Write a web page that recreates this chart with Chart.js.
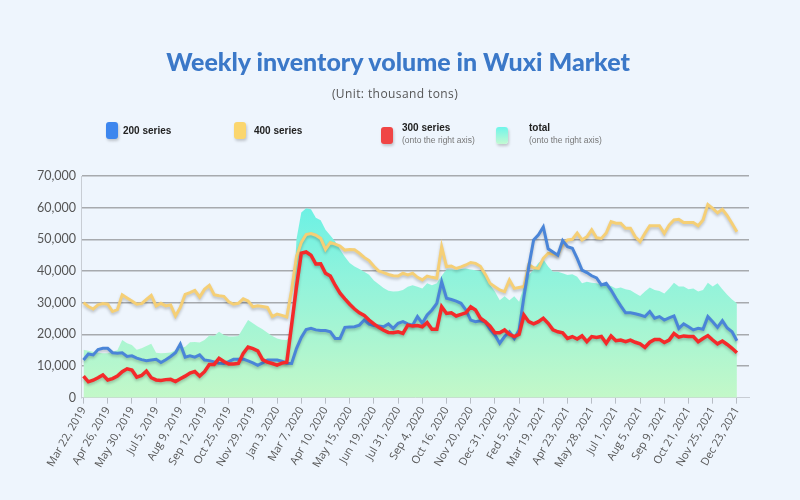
<!DOCTYPE html>
<html>
<head>
<meta charset="utf-8">
<script src="https://cdn.jsdelivr.net/npm/chart.js@4/dist/chart.umd.min.js"></script>
<style>
  body { margin: 0; background: #eef5fd; }
  #wrap { position: relative; width: 800px; height: 500px; background: #eef5fd; font-family: 'Open Sans', sans-serif; }
  #chart { position: absolute; left: 0; top: 0; }
  .title { position: absolute; left: 0; width: 796px; text-align: center; top: 46px; font-family: Lato, sans-serif; font-weight: 900; font-size: 25px; color: #3b78c8; }
  .sub { position: absolute; left: 0; width: 790px; text-align: center; top: 85px; font-size: 12px; color: #555; letter-spacing: 0.4px; }
  .box { position: absolute; width: 12px; height: 17px; border-radius: 3px; box-shadow: 1px 2px 3px rgba(0,0,0,0.2); }
  .lab { position: absolute; font-family: 'Liberation Sans', Arial, sans-serif; font-weight: bold; font-size: 10px; color: #222; }
  .note { position: absolute; font-family: 'Liberation Sans', Arial, sans-serif; font-size: 8.5px; color: #777; }
</style>
</head>
<body>
<div id="wrap">
  <canvas id="chart" width="800" height="500"></canvas>
  <div class="title">Weekly inventory volume in Wuxi Market</div>
  <div class="sub">(Unit: thousand tons)</div>

  <div class="box" style="left:106px;top:122px;background:#3d86ee;"></div>
  <div class="lab" style="left:123px;top:125px;">200 series</div>
  <div class="box" style="left:234px;top:122px;background:#fbd66e;"></div>
  <div class="lab" style="left:254px;top:125px;">400 series</div>
  <div class="box" style="left:381px;top:127px;background:#f04545;"></div>
  <div class="lab" style="left:402px;top:122px;">300 series</div>
  <div class="note" style="left:402px;top:135px;">(onto the right axis)</div>
  <div class="box" style="left:496px;top:127px;background:linear-gradient(#6ff5ea,#c3f9d2);"></div>
  <div class="lab" style="left:529px;top:122px;">total</div>
  <div class="note" style="left:529px;top:135px;">(onto the right axis)</div>
</div>

<script>
// tick dates, one every 5 weeks (as printed on the axis)
const tickDates = ['Mar 22, 2019', 'Apr 26, 2019', 'May 30, 2019', 'Jul 5, 2019', 'Aug 9, 2019', 'Sep 12, 2019',
    'Oct 25, 2019', 'Nov 29, 2019', 'Jan 3, 2020', 'Mar 7, 2020', 'Apr 10, 2020', 'May 15, 2020', 'Jun 19, 2020',
    'Jul 31, 2020', 'Sep 4, 2020', 'Oct 16, 2020', 'Nov 20, 2020', 'Dec 31, 2020', 'Fed 5, 2021', 'Mar 19, 2021',
    'Apr 23, 2021', 'May 28, 2021', 'Jul 1, 2021', 'Aug 5, 2021', 'Sep 9, 2021', 'Oct 21, 2021', 'Nov 25, 2021',
    'Dec 23, 2021'];
const TICK_STEP = 5;

const series200 = [
    11900, 13800, 13500, 15200, 15600, 15600, 14200, 14000, 14200, 13000,
    13200, 12500, 12000, 11700, 11900, 12100, 11100, 12000, 13000, 14200,
    16900, 12800, 13200, 12800, 13500, 11900, 11700, 11300, 10900, 10800,
    11400, 12100, 12100, 12200, 11600, 11000, 10200, 11000, 11900, 11900,
    11900, 11500, 10900, 10800, 15500, 19000, 21500, 21900, 21400, 21200,
    21200, 20800, 18700, 18700, 22200, 22300, 22400, 22900, 24500, 23200,
    22800, 22600, 22400, 23300, 21900, 23500, 24000, 23300, 22900, 25600,
    23500, 26100, 27700, 29800, 36600, 31400, 31000, 30500, 29800, 27700,
    24500, 24000, 24300, 24000, 21600, 19800, 17200, 19300, 20800, 18700,
    21400, 31900, 41400, 49800, 51400, 53900, 47000, 46000, 45000, 49600,
    47700, 47200, 44000, 40300, 39500, 38500, 37800, 35600, 36100, 34000,
    31400, 29000, 26800, 26800, 26500, 26100, 25600, 27200, 25100, 25600,
    24500, 25200, 25800, 21900, 23300, 22400, 21400, 21900, 21600, 25600,
    24000, 22200, 24300, 22000, 20800, 18000];

const series400 = [
    30000, 28800, 28000, 29300, 29700, 29500, 27200, 27800, 32500, 31500,
    30500, 29500, 29700, 31000, 32300, 29000, 29800, 29000, 29300, 25800,
    28500, 32600, 33200, 33900, 31800, 34200, 35500, 32500, 32200, 32000,
    30300, 29500, 29800, 31200, 30500, 28700, 29000, 28800, 28500, 25600,
    26400, 26000, 25500, 34000, 44500, 49000, 51500, 51800, 51300, 50300,
    46800, 49000, 48500, 47900, 46600, 46800, 46700, 45600, 44300, 43300,
    41500, 40000, 39500, 38900, 38500, 38400, 39300, 38800, 39300, 38000,
    37200, 38400, 38000, 37700, 47700, 41400, 41600, 40800, 41300, 41900,
    42700, 42400, 41500, 39000, 36100, 35000, 34000, 33500, 37200, 34500,
    34800, 35100, 42000, 41000, 40800, 44000, 45600, 45400, 45000, 48500,
    49800, 50000, 52000, 49800, 50800, 53000, 50500, 50300, 52000, 55600,
    55100, 55100, 53500, 53500, 50800, 49300, 51900, 54300, 54300, 54300,
    51900, 54500, 56100, 56300, 55300, 55300, 55300, 54300, 56100, 61000,
    59800, 58400, 59500, 57500, 55000, 52400];

const series300 = [
    6800, 5000, 5500, 6300, 7200, 5600, 6000, 6800, 8200, 9100,
    8700, 6500, 7000, 8400, 6300, 5600, 5400, 5700, 5800, 5100,
    6000, 6800, 7800, 8300, 6800, 8200, 10500, 10500, 12400, 11400,
    10600, 10600, 10800, 14000, 16000, 15500, 14800, 12000, 11200, 10800,
    10300, 10900, 11200, 23000, 35000, 45600, 46000, 45000, 42200, 42300,
    39300, 38400, 35500, 33000, 31200, 29500, 28000, 26800, 26000, 24500,
    23300, 22200, 21300, 20600, 20500, 20800, 20300, 22900, 22600, 22800,
    22400, 23700, 21600, 21600, 28700, 26600, 26800, 25800, 26300, 26800,
    28700, 27700, 25100, 24000, 22600, 20500, 20500, 21400, 20000, 19300,
    20000, 26100, 24000, 23300, 24000, 25100, 23500, 21400, 20800, 20500,
    18700, 19300, 18500, 19500, 17700, 19300, 19000, 19300, 17200, 19500,
    18000, 18200, 17700, 18200, 17500, 17000, 15900, 17500, 18400, 18400,
    17400, 18200, 20300, 19100, 19500, 19300, 19300, 17700, 18700, 19600,
    18200, 17000, 17900, 16800, 15600, 14200];

const seriesTotal = [
    15100, 14800, 14500, 14200, 14000, 14000, 14500, 15000, 18200, 17200,
    16600, 15100, 15600, 16300, 17000, 14200, 14000, 14100, 14300, 15000,
    15600, 16100, 17500, 17600, 17400, 18200, 19600, 19500, 20800, 19800,
    19300, 19300, 19500, 22000, 24500, 23500, 22500, 21600, 20500, 19500,
    18700, 18300, 18200, 20000, 50000, 58500, 59800, 59500, 56800, 56000,
    53000, 51200, 49300, 46800, 44500, 42500, 41400, 40600, 39800, 38800,
    37000, 35800, 34600, 33800, 33500, 33600, 34000, 35000, 35500, 35000,
    34500, 36100, 35500, 36100, 38500, 40500, 40500, 40300, 40600, 40800,
    40500, 40200, 40000, 39300, 35600, 33500, 30800, 32000, 30800, 32000,
    30300, 35100, 38700, 40500, 42500, 43700, 41400, 39800, 39800, 39300,
    38700, 39000, 38200, 36100, 36600, 36300, 36100, 35600, 35600, 35300,
    34500, 34800, 34200, 33900, 33000, 32100, 33500, 34800, 34000, 33700,
    32900, 34500, 36300, 35100, 35100, 34200, 34500, 33500, 34000, 36300,
    35100, 36100, 34200, 32500, 31000, 29800];

// weekly labels: printed dates, weeks in between counted on from them
const fmt = d => d.toLocaleDateString('en-US', { month: 'short', day: 'numeric', year: 'numeric' });
const labels = [];
tickDates.forEach((t, k) => {
    labels.push(t);
    const base = new Date(t.replace('Fed', 'Feb'));
    const extra = k < tickDates.length - 1 ? TICK_STEP - 1 : 2; // 2 empty weeks after the last one
    for (let j = 1; j <= extra; j++) {
        labels.push(fmt(new Date(base.getTime() + j * 7 * 86400000)));
    }
});
const nData = series200.length;

// light drop shadow under the lines
const lineShadow = {
    id: 'lineShadow',
    beforeDatasetDraw(chart, args) {
        if (chart.data.datasets[args.index].fill) return;
        const c = chart.ctx;
        c.save();
        c.shadowColor = 'rgba(0,0,0,0.22)';
        c.shadowBlur = 3;
        c.shadowOffsetY = 2;
    },
    afterDatasetDraw(chart, args) {
        if (chart.data.datasets[args.index].fill) return;
        chart.ctx.restore();
    }
};

const totalFill = (ctx) => {
    const { chart } = ctx;
    const area = chart.chartArea;
    if (!area) return '#9ff3d8';
    const g = chart.ctx.createLinearGradient(0, area.top, 0, area.bottom);
    g.addColorStop(0, '#5cf0e8');
    g.addColorStop(0.45, '#8ff3dc');
    g.addColorStop(1, '#c3f8c8');
    return g;
};

new Chart(document.getElementById('chart'), {
    type: 'line',
    data: {
        labels: labels,
        datasets: [
            { label: '300 series', data: series300, yAxisID: 'y1', borderColor: '#f42a2a', borderWidth: 3.5, pointRadius: 0, tension: 0, fill: false, order: 1 },
            { label: '200 series', data: series200, yAxisID: 'y', borderColor: '#4a85d8', borderWidth: 3, pointRadius: 0, tension: 0, fill: false, order: 2 },
            { label: '400 series', data: series400, yAxisID: 'y', borderColor: '#f5cf76', borderWidth: 3, pointRadius: 0, tension: 0, fill: false, order: 3 },
            { label: 'total', data: seriesTotal, yAxisID: 'y1', borderWidth: 0, pointRadius: 0, tension: 0, fill: 'origin', backgroundColor: totalFill, order: 4 }
        ]
    },
    options: {
        responsive: false,
        animation: false,
        devicePixelRatio: 1,
        layout: { padding: { top: 176, left: 32, right: 51, bottom: 29 } },
        plugins: { legend: { display: false }, title: { display: false } },
        scales: {
            x: {
                offset: true,
                grid: { drawOnChartArea: false, tickLength: 6, tickColor: '#b8bdc5' },
                border: { color: '#c8cdd4' },
                ticks: {
                    autoSkip: false, minRotation: 60, maxRotation: 60, padding: 1,
                    color: '#555', font: { family: 'Open Sans', size: 11 },
                    callback: (v, i) => (i % TICK_STEP === 0 && i < nData) ? labels[i] : null
                }
            },
            y: {
                min: 0, max: 70000,
                border: { color: '#c8cdd4' },
                grid: { drawTicks: false, lineWidth: 1.5, color: c => c.tick.value === 0 ? 'rgba(0,0,0,0)' : 'rgba(95,95,95,0.5)' },
                ticks: { stepSize: 10000, padding: 5, color: '#555', font: { family: 'Lato', size: 12.5 }, callback: v => v.toLocaleString('en-US') }
            },
            y1: { display: false, position: 'right', min: 0, max: 70000 }
        }
    },
    plugins: [lineShadow]
});
</script>
</body>
</html>
